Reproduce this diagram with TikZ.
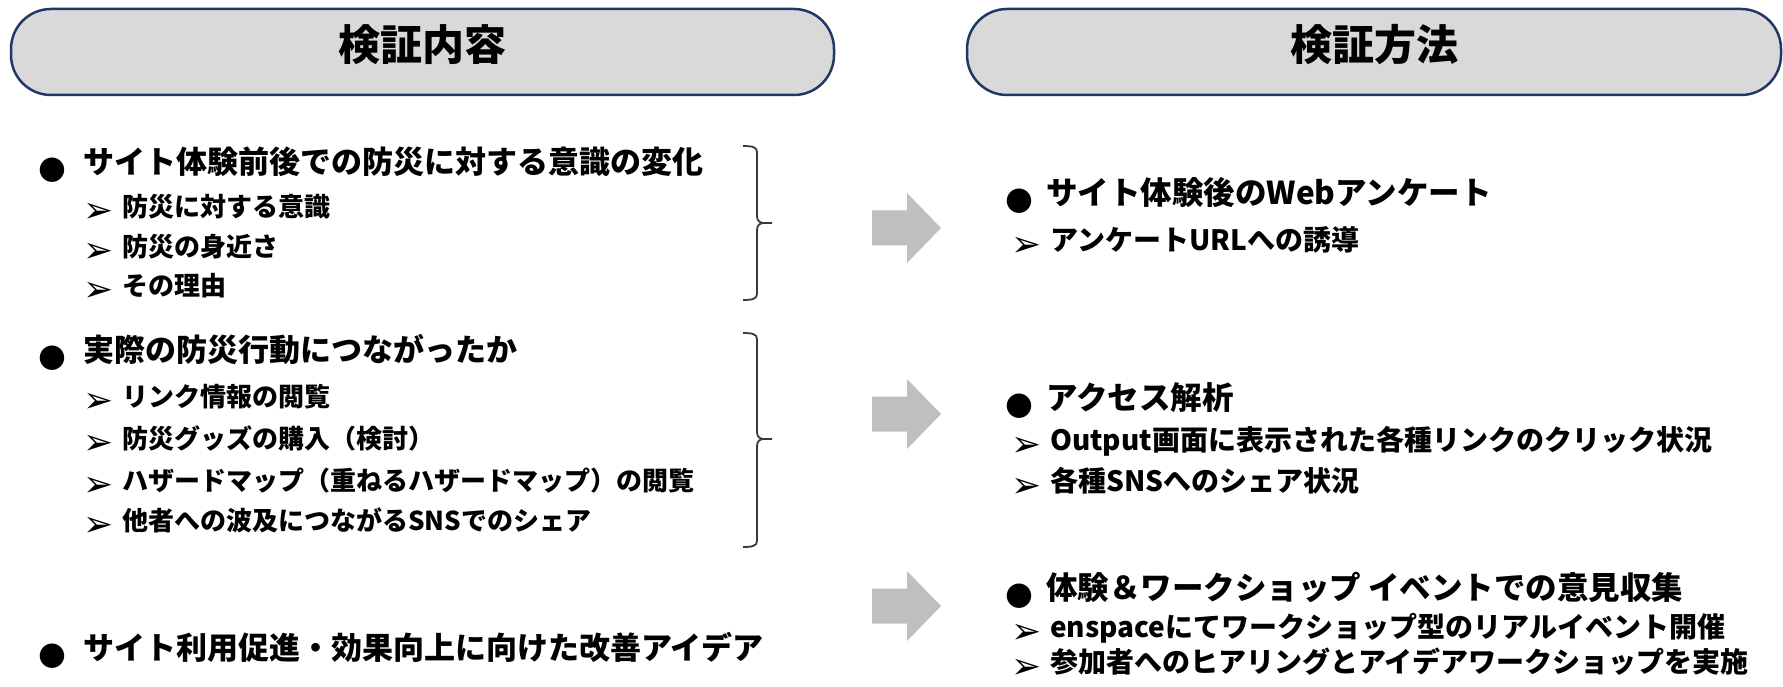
\documentclass[tikz,border=0pt]{standalone}
\usepackage{fontspec}
\newfontfamily\cjk{Noto Sans CJK JP}
\newfontfamily\sym{DejaVu Sans}
\definecolor{pillfill}{HTML}{D9D9D9}
\definecolor{pillline}{HTML}{1F3864}
\definecolor{arrowgray}{HTML}{BFBFBF}
\definecolor{bracecol}{HTML}{3A3A3A}
\tikzset{
  pill/.style={draw=pillline, line width=2.5pt, fill=pillfill, rounded corners=40pt},
  titletext/.style={inner sep=0, font=\cjk\bfseries\fontsize{42}{50}\selectfont, text height=0.83em, text depth=0.07em},
  lmain/.style={anchor=west, inner sep=0, font=\cjk\bfseries\fontsize{31}{36}\selectfont, text height=0.83em, text depth=0.07em},
  lsub/.style={anchor=west, inner sep=0, font=\cjk\bfseries\fontsize{26}{31}\selectfont, text height=0.83em, text depth=0.07em},
  rmain/.style={anchor=west, inner sep=0, font=\cjk\bfseries\fontsize{31.5}{36}\selectfont, text height=0.83em, text depth=0.07em},
  rsub/.style={anchor=west, inner sep=0, font=\cjk\bfseries\fontsize{28}{33}\selectfont, text height=0.83em, text depth=0.07em},
  bul/.style={inner sep=0, font=\sym\fontsize{32}{32}\selectfont},
  subarr/.style={inner sep=0, font=\sym\fontsize{36}{36}\selectfont},
  brace/.style={draw=bracecol, line width=1.8pt},
  blockarrow/.pic={\fill[arrowgray] (-34.5,-17.5) -- (0.5,-17.5) -- (0.5,-35) -- (34.5,0) -- (0.5,35) -- (0.5,17.5) -- (-34.5,17.5) -- cycle;}
}
\begin{document}
\begin{tikzpicture}[x=1pt,y=-1pt]
\useasboundingbox[fill=white] (0,0) rectangle (1783,687);
% headers
\draw[pill] (11,9) rectangle (834,95);
\draw[pill] (967,9) rectangle (1781,95);
\node[titletext] (t1) at (422.5,57) {検証内容};
\node[titletext] (t2) at (1374,57) {検証方法};
% left group 1
\node[bul] (b1) at (52,170) {●};
\node[lmain] (l1) at (83,170) {サイト体験前後での防災に対する意識の変化};
\node[subarr] (a11) at (99,213) {➢};
\node[lsub] (l11) at (122,213) {防災に対する意識};
\node[subarr] (a12) at (99,253) {➢};
\node[lsub] (l12) at (122,253) {防災の身近さ};
\node[subarr] (a13) at (99,292) {➢};
\node[lsub] (l13) at (122,292) {その理由};
% left group 2
\node[bul] (b2) at (52,358) {●};
\node[lmain] (l2) at (83,358) {実際の防災行動につながったか};
\node[subarr] (a21) at (99,403) {➢};
\node[lsub] (l21) at (122,403) {リンク情報の閲覧};
\node[subarr] (a22) at (99,445) {➢};
\node[lsub] (l22) at (122,445) {防災グッズの購入（検討）};
\node[subarr] (a23) at (99,487) {➢};
\node[lsub] (l23) at (122,487) {ハザードマップ（重ねるハザードマップ）の閲覧};
\node[subarr] (a24) at (99,527) {➢};
\node[lsub] (l24) at (122,527) {他者への波及につながるSNSでのシェア};
% left group 3
\node[bul] (b3) at (52,656) {●};
\node[lmain] (l3) at (83,656) {サイト利用促進・効果向上に向けた改善アイデア};
% braces
\draw[brace] (743,146) .. controls (752,146) and (757,147) .. (757,152) -- (757,216)
  .. controls (757,221) and (760,223) .. (764,223) -- (772,223)
  (764,223) .. controls (760,223) and (757,225) .. (757,230) -- (757,294)
  .. controls (757,299) and (752,300) .. (743,300);
\draw[brace] (743,333) .. controls (752,333) and (757,334) .. (757,339) -- (757,432)
  .. controls (757,437) and (760,439) .. (764,439) -- (772,439)
  (764,439) .. controls (760,439) and (757,441) .. (757,446) -- (757,541)
  .. controls (757,546) and (752,547) .. (743,547);
% block arrows
\pic at (906.5,228) {blockarrow};
\pic at (906.5,414) {blockarrow};
\pic at (906.5,606) {blockarrow};
% right group 1
\node[bul] (rb1) at (1019,201) {●};
\node[rmain] (r1) at (1046,201) {サイト体験後のWebアンケート};
\node[subarr] (ra11) at (1027,247) {➢};
\node[rsub] (r11) at (1050,247) {アンケートURLへの誘導};
% right group 2
\node[bul] (rb2) at (1019,406) {●};
\node[rmain] (r2) at (1046,406) {アクセス解析};
\node[subarr] (ra21) at (1027,447) {➢};
\node[rsub] (r21) at (1050,447) {Output画面に表示された各種リンクのクリック状況};
\node[subarr] (ra22) at (1027,488) {➢};
\node[rsub] (r22) at (1050,488) {各種SNSへのシェア状況};
% right group 3
\node[bul] (rb3) at (1019,596) {●};
\node[rmain] (r3) at (1046,596) {体験＆ワークショップ イベントでの意見収集};
\node[subarr] (ra31) at (1027,634) {➢};
\node[rsub] (r31) at (1050,634) {enspaceにてワークショップ型のリアルイベント開催};
\node[subarr] (ra32) at (1027,669) {➢};
\node[rsub] (r32) at (1050,669) {参加者へのヒアリングとアイデアワークショップを実施};
\end{tikzpicture}
\end{document}
